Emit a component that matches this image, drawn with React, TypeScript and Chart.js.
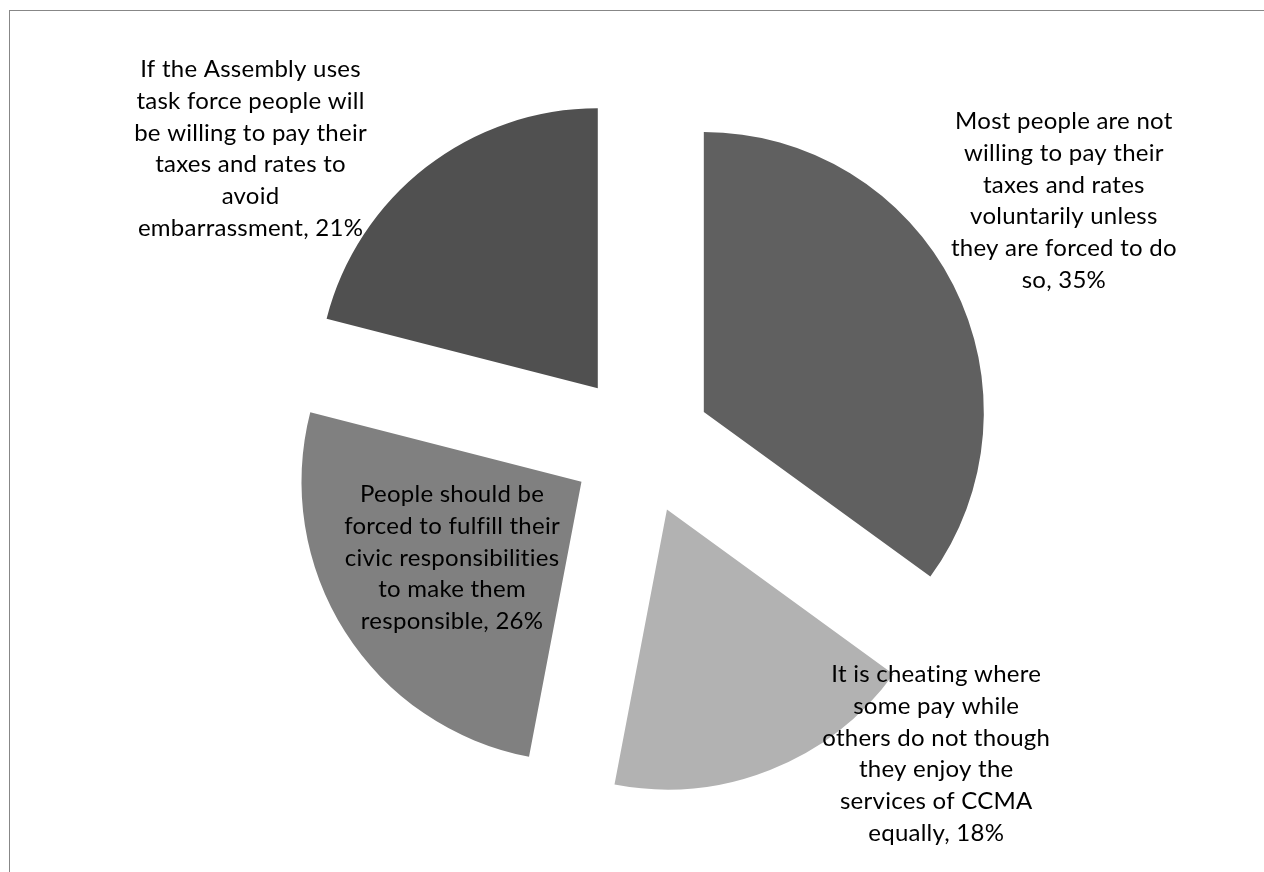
import React, { useEffect, useRef } from "react";
import { Chart, registerables } from "chart.js";

Chart.register(...registerables);

// ---- data ----
const categories: string[][] = [
  ["Most people are not", "willing to pay their", "taxes and rates", "voluntarily unless", "they are forced to do", "so"],
  ["It is cheating where", "some pay while", "others do not though", "they enjoy the", "services of CCMA", "equally"],
  ["People should be", "forced to fulfill their", "civic responsibilities", "to make them", "responsible"],
  ["If the Assembly uses", "task force people will", "be willing to pay their", "taxes and rates to", "avoid", "embarrassment"],
];
const values: number[] = [35, 18, 26, 21];

// ---- styles ----
const sliceColors: string[] = ["#606060", "#b2b2b2", "#808080", "#505050"];
// label anchor: fraction of the slice sweep, and distance from the pie centre in radii
const labelSweep: number[] = [0.477, 0.16, 0.514, 0.3];
const labelDistance: number[] = [1.742, 1.528, 0.788, 1.748];
const EXPLODE = 70.5;
const PIE_RADIUS = 280;
const FONT_SIZE = 24;
const LINE_HEIGHT = 31.7;
const FONT_FAMILY = "Lato, 'Open Sans', sans-serif";

const explodePlugin = {
  id: "explodeSlices",
  afterDatasetUpdate(chart: any, args: any) {
    args.meta.data.forEach((el: any) => {
      if (el.$exploded) return;
      const base = el.draw;
      el.draw = function (ctx: CanvasRenderingContext2D) {
        const mid = (this.startAngle + this.endAngle) / 2;
        ctx.save();
        ctx.translate(Math.cos(mid) * EXPLODE, Math.sin(mid) * EXPLODE);
        base.call(this, ctx);
        ctx.restore();
      };
      el.$exploded = true;
    });
  },
};

const labelPlugin = {
  id: "sliceLabels",
  afterDatasetsDraw(chart: any) {
    const ctx: any = chart.ctx;
    const meta = chart.getDatasetMeta(0);
    const labels = chart.data.labels as string[][];
    const data = chart.data.datasets[0].data as number[];
    ctx.save();
    ctx.font = `${FONT_SIZE}px ${FONT_FAMILY}`;
    if ("letterSpacing" in ctx) ctx.letterSpacing = "0.25px";
    ctx.fillStyle = "#000000";
    ctx.textAlign = "center";
    ctx.textBaseline = "middle";
    meta.data.forEach((el: any, i: number) => {
      const { x, y, startAngle, endAngle, outerRadius } = el.getProps(
        ["x", "y", "startAngle", "endAngle", "outerRadius"],
        true
      );
      const a = startAngle + labelSweep[i] * (endAngle - startAngle);
      const cx = x + Math.cos(a) * outerRadius * labelDistance[i];
      const cy = y + Math.sin(a) * outerRadius * labelDistance[i];
      const lines = labels[i].slice();
      lines[lines.length - 1] = `${lines[lines.length - 1]}, ${data[i]}%`;
      const n = lines.length;
      lines.forEach((line, k) => {
        ctx.fillText(line, cx, cy + (k - (n - 1) / 2) * LINE_HEIGHT);
      });
    });
    ctx.restore();
  },
};

export default function App() {
  const canvasRef = useRef<HTMLCanvasElement | null>(null);

  useEffect(() => {
    let chart: Chart | null = null;
    let cancelled = false;
    const build = () => {
      if (cancelled || !canvasRef.current) return;
      chart = new Chart(canvasRef.current, {
        type: "pie",
        data: {
          labels: categories,
          datasets: [
            {
              data: values,
              backgroundColor: sliceColors,
              borderWidth: 0,
              hoverOffset: 0,
              radius: PIE_RADIUS,
            } as any,
          ],
        },
        options: {
          responsive: false,
          animation: false,
          events: [],
          layout: { padding: { left: 18, top: 16, right: 0, bottom: 0 } },
          plugins: {
            legend: { display: false },
            tooltip: { enabled: false },
          },
        },
        plugins: [explodePlugin, labelPlugin],
      });
    };
    const fonts: any = (document as any).fonts;
    if (fonts && fonts.load) {
      fonts.load(`${FONT_SIZE}px Lato`).then(build, build);
    } else {
      build();
    }
    return () => {
      cancelled = true;
      if (chart) chart.destroy();
    };
  }, []);

  return (
    <div
      style={{
        position: "fixed",
        left: 0,
        top: 0,
        width: 1264,
        height: 872,
        overflow: "hidden",
        background: "#ffffff",
      }}
    >
      <div
        style={{
          position: "absolute",
          left: 9,
          top: 10,
          width: 1300,
          height: 900,
          border: "1px solid #878787",
          boxSizing: "border-box",
        }}
      />
      <canvas
        ref={canvasRef}
        width={1264}
        height={872}
        style={{ position: "absolute", left: 0, top: 0, display: "block" }}
      />
    </div>
  );
}
